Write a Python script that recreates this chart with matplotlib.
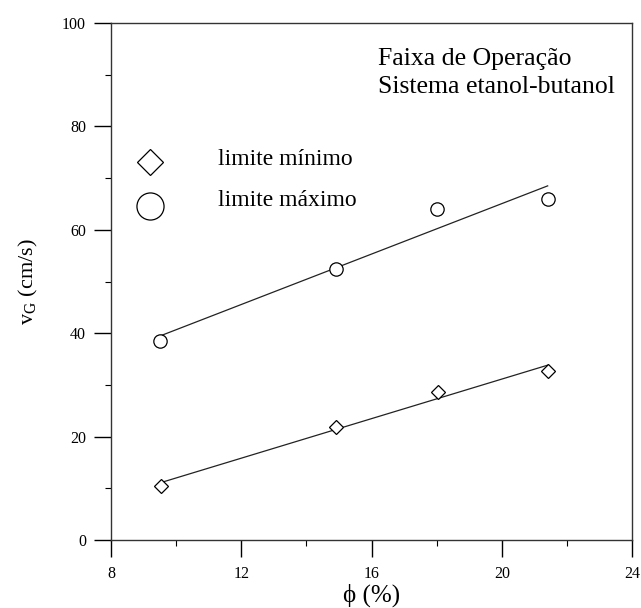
import numpy as np
import matplotlib
matplotlib.use("Agg")
import matplotlib.pyplot as plt
from matplotlib.ticker import MultipleLocator

plt.rcParams['font.family'] = ['Liberation Serif', 'DejaVu Serif']
plt.rcParams['mathtext.fontset'] = 'custom'
plt.rcParams['mathtext.rm'] = 'Liberation Serif'

# Gas holdup (%) and gas velocity limits (cm/s)
phi_min = [9.55, 14.9, 18.04, 21.41]
vg_min = [10.5, 21.9, 28.6, 32.7]
phi_max = [9.5, 14.9, 18.02, 21.41]
vg_max = [38.5, 52.4, 64.0, 65.9]

x_ticks = [8, 12, 16, 20, 24]
y_ticks = [0, 20, 40, 60, 80, 100]

fig = plt.figure(figsize=(6.41, 6.08), dpi=100)
ax = fig.add_axes([111 / 641, 1 - 540 / 608, 521 / 641, 517 / 608])

# linear fits through each set of limits
for xs, ys in ((phi_min, vg_min), (phi_max, vg_max)):
    c = np.polyfit(xs, ys, 1)
    xl = np.array([min(xs), max(xs)])
    ax.plot(xl, np.polyval(c, xl), color='#222222', lw=0.9, zorder=2)

ax.plot(phi_min, vg_min, linestyle='none', marker='D', ms=6.8, mfc='white',
        mec='black', mew=0.9, zorder=3)
ax.plot(phi_max, vg_max, linestyle='none', marker='o', ms=9.6, mfc='white',
        mec='black', mew=0.9, zorder=3)

ax.set_xlim(8, 24)
ax.set_ylim(0, 100)
ax.set_xticks(x_ticks)
ax.set_yticks(y_ticks)
ax.xaxis.set_minor_locator(MultipleLocator(2))
ax.yaxis.set_minor_locator(MultipleLocator(10))
ax.tick_params(which='major', direction='out', length=12, width=1,
               labelsize=11.5, top=False, right=False)
ax.tick_params(axis='x', which='major', pad=7)
ax.tick_params(axis='y', which='major', pad=6)
ax.tick_params(which='minor', direction='out', length=4.5, width=0.8,
               top=False, right=False)
for s in ax.spines.values():
    s.set_linewidth(1.0)
    s.set_color('#333333')

ax.set_xlabel('ϕ (%)', fontsize=18, labelpad=1)
ax.set_ylabel(r'v$_\mathregular{G}$ (cm/s)', fontsize=16, labelpad=16)

# legend entries
ax.plot([0.075], [0.732], transform=ax.transAxes, marker='D', ms=13.5,
        mfc='white', mec='black', mew=0.9, linestyle='none', clip_on=False)
ax.plot([0.075], [0.647], transform=ax.transAxes, marker='o', ms=19.5,
        mfc='white', mec='black', mew=0.9, linestyle='none', clip_on=False)
ax.text(0.205, 0.725, 'limite mínimo', transform=ax.transAxes,
        fontsize=17, va='baseline', ha='left')
ax.text(0.205, 0.646, 'limite máximo', transform=ax.transAxes,
        fontsize=17, va='baseline', ha='left')

ax.text(0.512, 0.919, 'Faixa de Operação', transform=ax.transAxes,
        fontsize=18.5, va='baseline', ha='left')
ax.text(0.512, 0.865, 'Sistema etanol-butanol', transform=ax.transAxes,
        fontsize=18.5, va='baseline', ha='left')

fig.savefig('out.png', dpi=100)
